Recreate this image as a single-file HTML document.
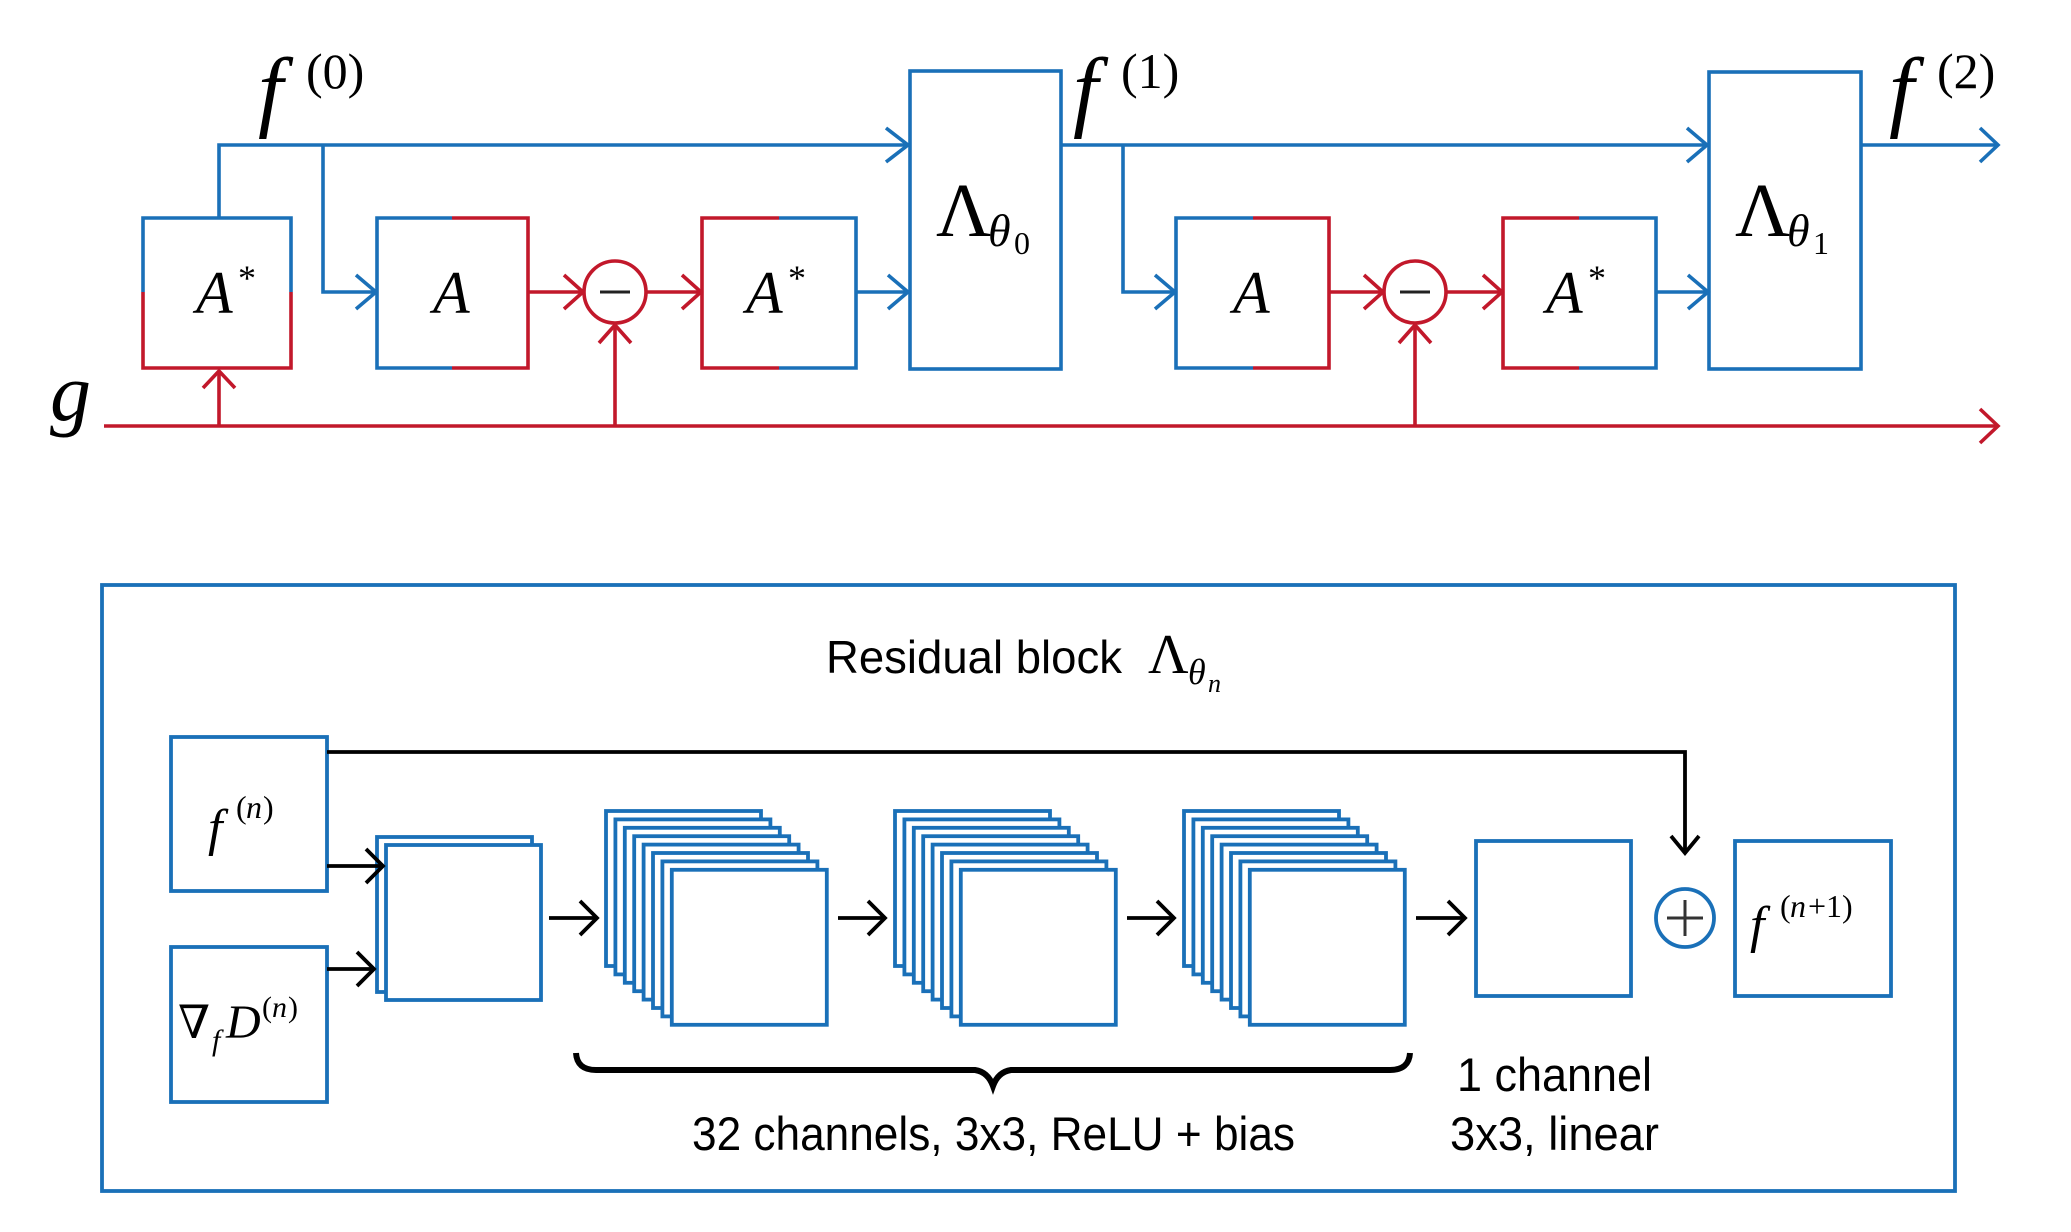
<!DOCTYPE html>
<html><head><meta charset="utf-8"><style>
html,body{margin:0;padding:0;background:#fff}
svg{display:block}
.m{font-family:"Liberation Serif","DejaVu Serif",serif;font-style:italic;fill:#000}
.r{font-family:"Liberation Serif","DejaVu Serif",serif;fill:#000}
.s{font-family:"Liberation Sans","DejaVu Sans",sans-serif;fill:#000}
</style></head><body>
<svg width="2071" height="1232" viewBox="0 0 2071 1232" xmlns="http://www.w3.org/2000/svg">
<defs>
<g fill="#fff" stroke="#1a70b8" stroke-width="3.8" id="st">
<rect x="0" y="0" width="155" height="155"/>
<rect x="9.4" y="8.4" width="155" height="155"/>
<rect x="18.8" y="16.8" width="155" height="155"/>
<rect x="28.2" y="25.2" width="155" height="155"/>
<rect x="37.6" y="33.6" width="155" height="155"/>
<rect x="47" y="42" width="155" height="155"/>
<rect x="56.4" y="50.4" width="155" height="155"/>
<rect x="65.8" y="58.8" width="155" height="155"/>
</g>
</defs>
<g fill="none" stroke-width="3.6" stroke-linecap="butt">
<g stroke="#1a70b8">
<polyline points="143,292 143,218 291,218 291,292"/>
<polyline points="219,218 219,145 908,145"/>
<polyline points="886,128 908,145 886,162"/>
<polyline points="323,145 323,292 375,292"/>
<polyline points="356,275 376,292 356,309"/>
<polyline points="452,218 377,218 377,368 452,368"/>
<polyline points="779,218 856,218 856,368 779,368"/>
<line x1="856" y1="292" x2="908" y2="292"/>
<polyline points="888,275 908,292 888,309"/>
<rect x="910" y="71" width="151" height="298"/>
<line x1="1061" y1="145" x2="1707" y2="145"/>
<polyline points="1687,128 1707,145 1687,162"/>
<polyline points="1123,145 1123,292 1174,292"/>
<polyline points="1155,275 1175,292 1155,309"/>
<polyline points="1253,218 1176,218 1176,368 1253,368"/>
<polyline points="1579,218 1656,218 1656,368 1579,368"/>
<line x1="1656" y1="292" x2="1707" y2="292"/>
<polyline points="1688,275 1708,292 1688,309"/>
<rect x="1709" y="72" width="152" height="297"/>
<line x1="1861" y1="145" x2="1998" y2="145"/>
<polyline points="1980,128 1998,145 1980,162"/>
</g>
<g stroke="#c2182b">
<polyline points="143,292 143,368 291,368 291,292"/>
<line x1="104" y1="426" x2="1998" y2="426"/>
<polyline points="1980,409 1998,426 1980,443"/>
<line x1="219" y1="426" x2="219" y2="372"/>
<polyline points="203,388 219,371 235,388"/>
<polyline points="452,218 528,218 528,368 452,368"/>
<line x1="528" y1="292" x2="582" y2="292"/>
<polyline points="564,275 583,292 564,309"/>
<circle cx="615" cy="292" r="31"/>
<line x1="615" y1="426" x2="615" y2="325"/>
<polyline points="599,343 615,325 631,343"/>
<line x1="647" y1="292" x2="700" y2="292"/>
<polyline points="682,275 701,292 682,309"/>
<polyline points="779,218 702,218 702,368 779,368"/>
<polyline points="1253,218 1329,218 1329,368 1253,368"/>
<line x1="1329" y1="292" x2="1382" y2="292"/>
<polyline points="1364,275 1383,292 1364,309"/>
<circle cx="1415" cy="292" r="31"/>
<line x1="1415" y1="426" x2="1415" y2="325"/>
<polyline points="1399,343 1415,325 1431,343"/>
<line x1="1447" y1="292" x2="1501" y2="292"/>
<polyline points="1483,275 1502,292 1483,309"/>
<polyline points="1579,218 1503,218 1503,368 1579,368"/>
</g>
<line x1="600" y1="292" x2="630" y2="292" stroke="#222" stroke-width="3"/>
<line x1="1400" y1="292" x2="1430" y2="292" stroke="#222" stroke-width="3"/>
</g>
<text class="m" x="196" y="313" font-size="60">A</text><text class="r" x="238" y="290" font-size="36">*</text>
<text class="m" x="433" y="313" font-size="60">A</text>
<text class="m" x="746" y="313" font-size="60">A</text><text class="r" x="788" y="290" font-size="36">*</text>
<text class="m" x="1233" y="313" font-size="60">A</text>
<text class="m" x="1546" y="313" font-size="60">A</text><text class="r" x="1588" y="290" font-size="36">*</text>
<text class="r" x="936" y="236" font-size="76">Λ</text><text class="m" x="988" y="246" font-size="46">θ</text><text class="r" x="1014" y="254" font-size="32">0</text>
<text class="r" x="1735" y="236" font-size="76">Λ</text><text class="m" x="1787" y="246" font-size="46">θ</text><text class="r" x="1813" y="254" font-size="32">1</text>
<text class="m" x="258" y="120" font-size="90">f</text><text class="r" x="306" y="88" font-size="50">(0)</text>
<text class="m" x="1073" y="120" font-size="90">f</text><text class="r" x="1121" y="88" font-size="50">(1)</text>
<text class="m" x="1889" y="120" font-size="90">f</text><text class="r" x="1937" y="88" font-size="50">(2)</text>
<text class="m" x="50" y="420" font-size="82">g</text>

<g fill="none" stroke="#1a70b8" stroke-width="3.8">
<rect x="102" y="585" width="1853" height="606"/>
<rect x="171" y="737" width="156" height="154"/>
<rect x="171" y="947" width="156" height="155"/>
<rect x="1476" y="841" width="155" height="155"/>
<rect x="1735" y="841" width="156" height="155"/>
<circle cx="1685" cy="918" r="29"/>
</g>
<g fill="#fff" stroke="#1a70b8" stroke-width="3.8">
<rect x="377" y="837" width="155" height="155"/>
<rect x="386" y="845" width="155" height="155"/>
</g>
<use href="#st" transform="translate(606,811)"/>
<use href="#st" transform="translate(895,811)"/>
<use href="#st" transform="translate(1184,811)"/>
<g fill="none" stroke="#000" stroke-width="3.8">
<polyline points="327,752 1685,752 1685,852"/>
<polyline points="1671,836 1685,853 1699,836"/>
<line x1="327" y1="866" x2="382" y2="866"/><polyline points="366,849 383,866 366,883"/>
<line x1="327" y1="969" x2="373" y2="969"/><polyline points="357,952 374,969 357,986"/>
<line x1="549" y1="918" x2="596" y2="918"/><polyline points="580,901 597,918 580,935"/>
<line x1="838" y1="918" x2="884" y2="918"/><polyline points="868,901 885,918 868,935"/>
<line x1="1127" y1="918" x2="1173" y2="918"/><polyline points="1157,901 1174,918 1157,935"/>
<line x1="1416" y1="918" x2="1464" y2="918"/><polyline points="1448,901 1465,918 1448,935"/>
<line x1="1667" y1="918" x2="1703" y2="918" stroke="#333" stroke-width="3"/>
<line x1="1685" y1="900" x2="1685" y2="936" stroke="#333" stroke-width="3"/>
</g>
<path d="M576,1053 Q577,1070 596,1070 L975,1070 Q988,1072 993,1086 Q998,1072 1011,1070 L1390,1070 Q1409,1070 1410,1053" fill="none" stroke="#000" stroke-width="6"/>
<text class="s" x="826" y="673" font-size="46" textLength="296" lengthAdjust="spacingAndGlyphs">Residual block</text>
<text class="r" x="1148" y="673" font-size="56">Λ</text><text class="m" x="1188" y="684" font-size="36">θ</text><text class="m" x="1208" y="692" font-size="26">n</text>
<text class="s" x="692" y="1150" font-size="47" textLength="603" lengthAdjust="spacingAndGlyphs">32 channels, 3x3, ReLU + bias</text>
<text class="s" x="1457" y="1091" font-size="47" textLength="195" lengthAdjust="spacingAndGlyphs">1 channel</text>
<text class="s" x="1450" y="1150" font-size="47" textLength="209" lengthAdjust="spacingAndGlyphs">3x3, linear</text>
<text class="m" x="208" y="845" font-size="52">f</text><text class="r" x="236" y="818" font-size="32">(</text><text class="m" x="246" y="818" font-size="32">n</text><text class="r" x="263" y="818" font-size="32">)</text>
<text class="r" x="178" y="1038" font-size="46">∇</text><text class="m" x="212" y="1050" font-size="30">f</text><text class="m" x="226" y="1038" font-size="48">D</text><text class="r" x="262" y="1017" font-size="30">(</text><text class="m" x="272" y="1017" font-size="30">n</text><text class="r" x="288" y="1017" font-size="30">)</text>
<text class="m" x="1750" y="942" font-size="52">f</text><text class="r" x="1780" y="917" font-size="32">(</text><text class="m" x="1790" y="917" font-size="32">n</text><text class="r" x="1808" y="917" font-size="32">+1)</text>
</svg>
</body></html>
